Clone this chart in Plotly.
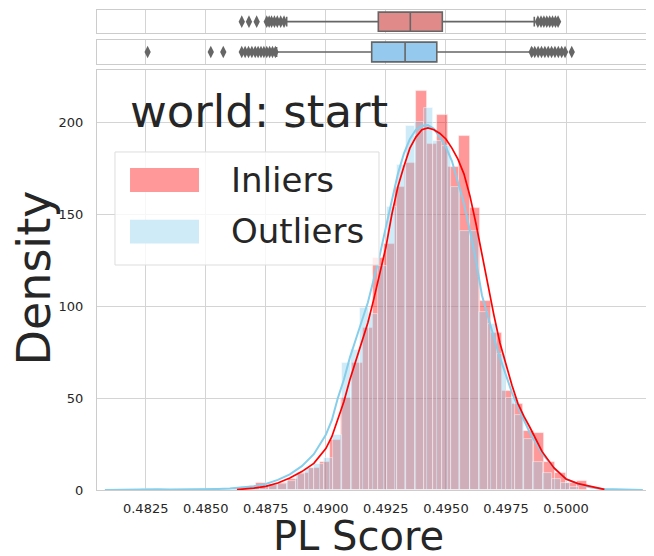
import numpy as np
import plotly.graph_objects as go

# ---------------- data ----------------
x_ticks = [0.4825, 0.4850, 0.4875, 0.4900, 0.4925, 0.4950, 0.4975, 0.5000]
x_tick_labels = ["0.4825", "0.4850", "0.4875", "0.4900", "0.4925", "0.4950", "0.4975", "0.5000"]
y_ticks = [0, 50, 100, 150, 200]
y_tick_labels = ["0", "50", "100", "150", "200"]

series_names = ["Inliers", "Outliers"]

# histogram (density) of Inliers
inlier_bin_start = 0.486182
inlier_bin_width = 0.0004455
inlier_density = [0.5, 1, 4, 2.5, 4, 6, 9, 12, 15, 27, 50, 69, 88, 126, 134, 165, 178,
                  217, 188, 204, 176, 192.5, 153.6, 103, 85.6, 54, 47, 32, 31, 15, 9, 4, 5]

# histogram (density) of Outliers
outlier_bin_start = 0.482301
outlier_bin_width = 0.0003801
outlier_density = [0.6, 0, 0, 0, 0, 0, 0, 0.6, 0, 0.6, 1, 1.5, 2, 2.5, 3, 3.5,
                   5, 8.7, 12, 14, 17.6, 30, 69, 76, 99, 96, 122, 154, 177, 198, 200, 208,
                   190, 187, 165, 141, 141, 96.7, 90.5, 74, 50, 41, 28, 15, 9.5, 6, 4, 1.5]

# KDE curves
inlier_kde_x = [0.4863, 0.4865, 0.4870, 0.4875, 0.4880, 0.4885, 0.4890, 0.4895, 0.4900, 0.49025,
                0.4905, 0.49075, 0.4910, 0.49125, 0.4915, 0.49175, 0.4920, 0.49225, 0.4925, 0.49275,
                0.4930, 0.49325, 0.4935, 0.49375, 0.4940, 0.49425, 0.4945, 0.49475, 0.4950, 0.49525,
                0.4955, 0.49575, 0.4960, 0.49625, 0.4965, 0.49675, 0.4970, 0.49725, 0.4975, 0.49775,
                0.4980, 0.49825, 0.4985, 0.4990, 0.4995, 0.5000, 0.5005, 0.5010, 0.5016]
inlier_kde_y = [0.2, 0.4, 1.0, 2.0, 3.8, 6.5, 10, 14.5, 22.5, 29,
                38, 48, 60, 70, 80, 91, 104, 118, 132, 150,
                165, 176, 186, 192, 196, 197, 196, 194, 191, 186,
                180, 172, 160, 145, 128, 112, 95, 80, 68, 57,
                47, 40, 34, 21, 12, 6, 3.5, 2.2, 0.3]

outlier_kde_x = [0.4808, 0.4810, 0.4815, 0.4820, 0.4825, 0.4830, 0.4835, 0.4840, 0.4845, 0.4850,
                 0.4855, 0.4860, 0.4865, 0.4870, 0.4875, 0.4880, 0.4885, 0.4890, 0.4895, 0.4900,
                 0.49025, 0.4905, 0.49075, 0.4910, 0.49125, 0.4915, 0.49175, 0.4920, 0.49225, 0.4925,
                 0.49275, 0.4930, 0.49325, 0.4935, 0.49375, 0.4940, 0.49425, 0.4945, 0.49475, 0.4950,
                 0.49525, 0.4955, 0.49575, 0.4960, 0.49625, 0.4965, 0.49675, 0.4970, 0.49725, 0.4975,
                 0.49775, 0.4980, 0.49825, 0.4985, 0.4990, 0.4995, 0.5000, 0.5005, 0.5010, 0.5015,
                 0.5020, 0.5025, 0.5030, 0.5032]
outlier_kde_y = [0.05, 0.1, 0.2, 0.3, 0.35, 0.35, 0.3, 0.3, 0.35, 0.4,
                 0.6, 0.8, 1.2, 2.0, 3.3, 5.5, 8.5, 13, 19.5, 30,
                 38, 50, 60, 72, 82, 92, 102, 115, 128, 143,
                 158, 172, 183, 191, 196, 198, 198.5, 196.5, 192, 186.6,
                 179, 168, 156, 141, 125, 106, 94, 83, 72, 62,
                 53, 45, 38, 31, 20, 12, 6, 3.3, 1.5, 0.6,
                 0.4, 0.35, 0.2, 0.05]

# box plot statistics
inlier_box = dict(q1=0.492185, median=0.493517, q3=0.49485, lo=0.48837, hi=0.49868)
outlier_box = dict(q1=0.49191, median=0.49330, q3=0.49462, lo=0.48795, hi=0.49857)
inlier_fliers = [0.48650, 0.48680, 0.48712, 0.48754, 0.48764, 0.48774, 0.48786, 0.48798, 0.48812,
                 0.48826, 0.49883, 0.49896, 0.49908, 0.49920, 0.49932, 0.49944, 0.49956, 0.49967]
outlier_fliers = [0.48258, 0.48521, 0.48573, 0.48650, 0.48664, 0.48678, 0.48692, 0.48706, 0.48718,
                  0.48730, 0.48742, 0.48754, 0.48766, 0.48778, 0.48790, 0.49857, 0.49870, 0.49884,
                  0.49898, 0.49912, 0.49926, 0.49940, 0.49954, 0.49968, 0.49982, 0.49996, 0.50024]

# ---------------- styling ----------------
FONT = "DejaVu Sans"
TXT = "#262626"
GRID = "#d4d4d4"
SPINE = "#cccccc"
RED_FILL = "rgba(255,0,0,0.4)"
BLUE_FILL = "rgba(135,206,235,0.4)"
BOX_LINE = "#666666"

# the page body adds an 8px offset; the figure is sized to fill the rest of the window
FIG_W, FIG_H = 646, 548
M_L, M_R, M_T, M_B = 89, 2, 2, 66
PLOT_W = FIG_W - M_L - M_R   # 555

inl_centers = inlier_bin_start + inlier_bin_width * (np.arange(len(inlier_density)) + 0.5)
out_centers = outlier_bin_start + outlier_bin_width * (np.arange(len(outlier_density)) + 0.5)

fig = go.Figure()

fig.add_trace(go.Bar(x=inl_centers, y=inlier_density, width=inlier_bin_width,
                     marker=dict(color=RED_FILL, line=dict(color="rgba(255,255,255,0.55)", width=0.8)),
                     name=series_names[0], showlegend=False, xaxis="x", yaxis="y"))
fig.add_trace(go.Bar(x=out_centers, y=outlier_density, width=outlier_bin_width,
                     marker=dict(color=BLUE_FILL, line=dict(color="rgba(255,255,255,0.55)", width=0.8)),
                     name=series_names[1], showlegend=False, xaxis="x", yaxis="y"))
fig.add_trace(go.Scatter(x=outlier_kde_x, y=outlier_kde_y, mode="lines",
                         line=dict(color="skyblue", width=2), showlegend=False, xaxis="x", yaxis="y"))
fig.add_trace(go.Scatter(x=inlier_kde_x, y=inlier_kde_y, mode="lines",
                         line=dict(color="red", width=1.7), showlegend=False, xaxis="x", yaxis="y"))

def add_box(stats, fliers, fill, xa, ya):
    fig.add_trace(go.Box(q1=[stats["q1"]], median=[stats["median"]], q3=[stats["q3"]],
                         lowerfence=[stats["lo"]], upperfence=[stats["hi"]], y=[0],
                         orientation="h", width=0.82, whiskerwidth=0.5, boxpoints=False,
                         fillcolor=fill, line=dict(color=BOX_LINE, width=1.6),
                         showlegend=False, xaxis=xa, yaxis=ya, hoverinfo="skip"))
    fig.add_trace(go.Scatter(x=fliers, y=[0] * len(fliers), mode="markers",
                             marker=dict(symbol="diamond-tall", size=9, color=BOX_LINE),
                             showlegend=False, xaxis=xa, yaxis=ya))

add_box(inlier_box, inlier_fliers, "#e08a8a", "x3", "y3")
add_box(outlier_box, outlier_fliers, "#95c9ee", "x2", "y2")

xr = [0.480472, 0.503581]
common_x = dict(range=xr, tickvals=x_ticks, showgrid=True, gridcolor=GRID, gridwidth=1,
                showline=True, mirror=True, linecolor=SPINE, linewidth=1.2, zeroline=False)

fig.update_layout(
    width=FIG_W, height=FIG_H, autosize=False,
    margin=dict(l=M_L, r=M_R, t=M_T, b=M_B, autoexpand=False),
    paper_bgcolor="white", plot_bgcolor="white",
    barmode="overlay", bargap=0,
    font=dict(family=FONT, color=TXT, size=13),
    showlegend=False,
    xaxis=dict(**common_x, anchor="y", side="bottom", ticktext=x_tick_labels, ticks="outside", ticklen=6,
               tickcolor="rgba(0,0,0,0)", tickfont=dict(size=13, color=TXT, family=FONT)),
    yaxis=dict(domain=[0, 0.875], range=[0, 228.5], tickvals=y_ticks, ticktext=y_tick_labels,
               anchor="x", side="left",
               showgrid=True, gridcolor=GRID, showline=True, mirror=True, linecolor=SPINE,
               linewidth=1.2, zeroline=False, ticks="outside", ticklen=10,
               tickcolor="rgba(0,0,0,0)", tickfont=dict(size=13, color=TXT, family=FONT)),
    xaxis2=dict(**common_x, anchor="y2", matches="x", showticklabels=False),
    yaxis2=dict(domain=[0.8875, 0.9375], range=[-0.5, 0.5], showticklabels=False, showgrid=False,
                showline=True, mirror=True, linecolor=SPINE, linewidth=1.2, zeroline=False),
    xaxis3=dict(**common_x, anchor="y3", matches="x", showticklabels=False),
    yaxis3=dict(domain=[0.9515, 1.0], range=[-0.5, 0.5], showticklabels=False, showgrid=False,
                showline=True, mirror=True, linecolor=SPINE, linewidth=1.2, zeroline=False),
)

# legend drawn by hand (matplotlib-style large patches)
fig.add_shape(type="rect", xref="x domain", yref="y domain", x0=0.0324, x1=0.5081, y0=0.5357, y1=0.8048,
              fillcolor="rgba(255,255,255,0.8)", line=dict(color="#dddddd", width=1), layer="above")
fig.add_shape(type="rect", xref="x domain", yref="y domain", x0=0.0595, x1=0.1838, y0=0.7095, y1=0.7667,
              fillcolor="#ff9999", line=dict(width=0), layer="above")
fig.add_shape(type="rect", xref="x domain", yref="y domain", x0=0.0595, x1=0.1838, y0=0.5869, y1=0.6433,
              fillcolor="#cfebf7", line=dict(width=0), layer="above")
fig.add_annotation(text=series_names[0], xref="x domain", yref="y domain", x=0.2378, y=0.738,
                   xanchor="left", yanchor="middle", showarrow=False, font=dict(size=34, color=TXT, family=FONT))
fig.add_annotation(text=series_names[1], xref="x domain", yref="y domain", x=0.2378, y=0.6155,
                   xanchor="left", yanchor="middle", showarrow=False, font=dict(size=34, color=TXT, family=FONT))

# in-plot title
fig.add_annotation(text="world: start", xref="x domain", yref="y domain", x=0.0559, y=0.9014,
                   xanchor="left", yanchor="middle", showarrow=False, font=dict(size=45, color=TXT, family=FONT))

# axis labels
fig.add_annotation(text="PL Score", xref="x domain", yref="y domain", x=0.472, y=-0.109,
                   xanchor="center", yanchor="middle", showarrow=False, font=dict(size=40, color=TXT, family=FONT))
fig.add_annotation(text="Density", xref="x domain", yref="y domain", x=(34 - 97) / PLOT_W, y=0.5036,
                   xanchor="center", yanchor="middle", textangle=-90, showarrow=False,
                   font=dict(size=46, color=TXT, family=FONT))

fig.write_html("out.html")
